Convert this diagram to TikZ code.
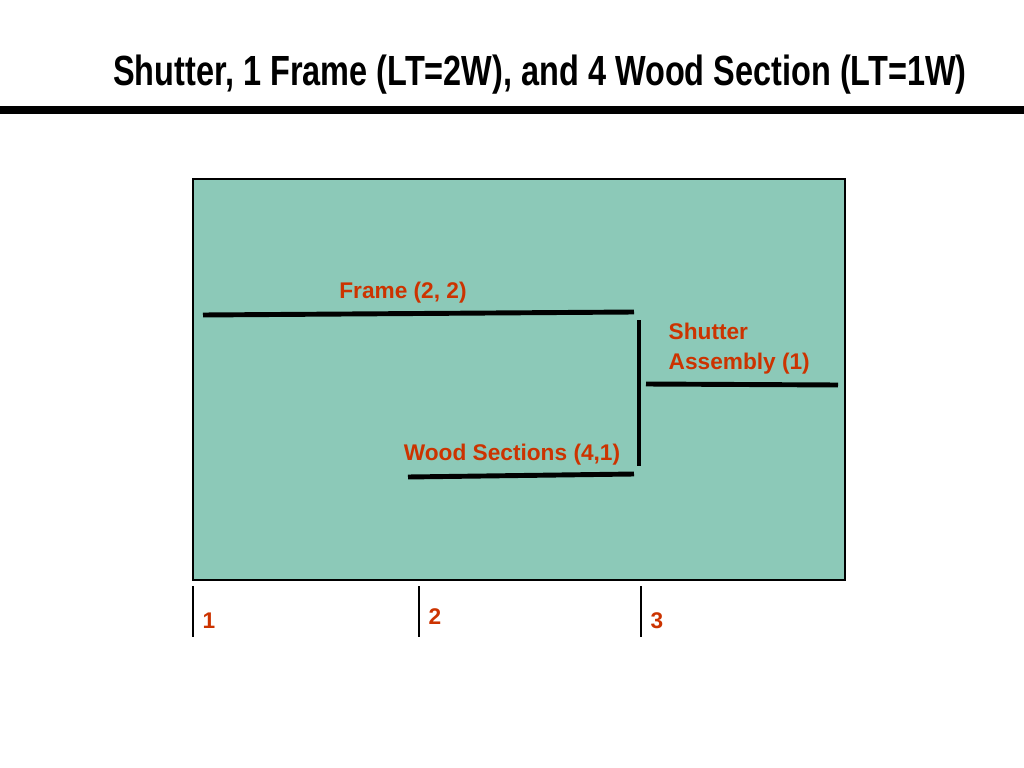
\documentclass[tikz,border=0pt]{standalone}
\usepackage{fontspec}
\setmainfont{Liberation Sans}
\definecolor{panel}{HTML}{8CC9B8}
\definecolor{labelred}{HTML}{CC3300}
\tikzset{
  beam/.style={line width=1.4pt},
  lbl/.style={font=\bfseries\fontsize{6.45pt}{7.6pt}\selectfont, text=labelred, inner sep=0pt},
  tick/.style={line width=0.3pt}
}
\begin{document}
\begin{tikzpicture}
  \useasboundingbox (0,0) rectangle (10.24,-7.68);
  % title
  \node[font=\bfseries\fontsize{12pt}{14pt}\selectfont, xscale=0.77] (title) at (5.40,-0.75) {Shutter, 1 Frame (LT=2W), and 4 Wood Section (LT=1W)};
  \draw[line width=2.3pt] (0,-1.10) -- (10.24,-1.10);
  % panel
  \draw[fill=panel, line width=0.4pt] (1.93,-1.79) rectangle (8.45,-5.80);
  % beams
  \draw[beam] (2.03,-3.15) -- (6.34,-3.12);
  \draw[beam] (6.39,-3.20) -- (6.39,-4.66);
  \draw[beam] (6.46,-3.84) -- (8.38,-3.85);
  \draw[beam] (4.08,-4.77) -- (6.34,-4.74);
  % labels
  \node[lbl] (frame) at (4.03,-2.93) {Frame (2, 2)};
  \node[lbl, anchor=west, align=left] (shutter) at (6.68,-3.49) {Shutter\\[1pt]Assembly (1)};
  \node[lbl] (wood) at (5.12,-4.55) {Wood Sections (4,1)};
  % ticks
  \foreach \x/\n/\ny in {1.93/1/6.21, 4.19/2/6.17, 6.41/3/6.21} {
    \draw[tick] (\x,-5.86) -- (\x,-6.37);
    \node[lbl] (n\n) at (\x+0.16,-\ny) {\n};
  }
\end{tikzpicture}
\end{document}
